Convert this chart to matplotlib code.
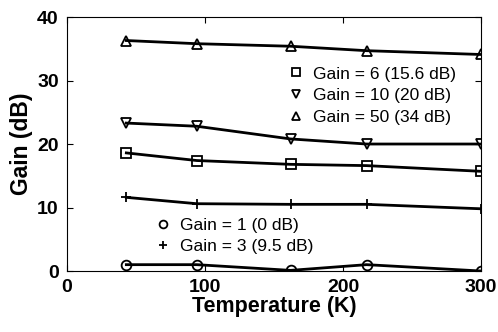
import matplotlib
matplotlib.use('Agg')
import matplotlib.pyplot as plt

temps = [43, 94, 162, 217, 300]
gain_1 = [1.0, 1.0, 0.1, 1.0, 0.0]
gain_3 = [11.6, 10.6, 10.5, 10.5, 9.8]
gain_6 = [18.6, 17.4, 16.8, 16.6, 15.7]
gain_10 = [23.3, 22.8, 20.8, 20.0, 20.0]
gain_50 = [36.3, 35.8, 35.4, 34.7, 34.1]

plt.rcParams['font.family'] = ['Liberation Sans', 'DejaVu Sans']

fig = plt.figure(figsize=(4.98, 3.32), dpi=100)
ax = fig.add_axes([0.1345, 0.1837, 0.8315, 0.765])

style = dict(color='black', linewidth=2.0, markersize=7, markerfacecolor='none',
             markeredgewidth=1.3)
l1, = ax.plot(temps, gain_1, marker='o', label='Gain = 1 (0 dB)', **style)
l3, = ax.plot(temps, gain_3, marker='+', label='Gain = 3 (9.5 dB)', **style)
l6, = ax.plot(temps, gain_6, marker='s', label='Gain = 6 (15.6 dB)', **style)
l10, = ax.plot(temps, gain_10, marker='v', label='Gain = 10 (20 dB)', **style)
l50, = ax.plot(temps, gain_50, marker='^', label='Gain = 50 (34 dB)', **style)

ax.set_xlim(0, 300)
ax.set_ylim(0, 40)
ax.set_xticks([0, 100, 200, 300])
ax.set_yticks([0, 10, 20, 30, 40])
ax.tick_params(direction='in', top=True, right=True, labelsize=14, length=4, pad=6)
for lbl in ax.get_xticklabels() + ax.get_yticklabels():
    lbl.set_fontweight('bold')
ax.set_xlabel('Temperature (K)', fontsize=15.5, fontweight='bold', labelpad=0)
ax.set_ylabel('Gain (dB)', fontsize=16.5, fontweight='bold', labelpad=3)

leg_kw = dict(frameon=False, fontsize=12.5, handlelength=1.0, handletextpad=0.5,
              labelspacing=0.38, borderpad=0, markerscale=0.8)
leg1 = ax.legend(handles=[l6, l10, l50], loc='upper left',
                 bbox_to_anchor=(0.51, 0.84), **leg_kw)
for h in leg1.legend_handles:
    h.set_linestyle('none')
ax.add_artist(leg1)
leg2 = ax.legend(handles=[l1, l3], loc='upper left',
                 bbox_to_anchor=(0.19, 0.245), **leg_kw)
for h in leg2.legend_handles:
    h.set_linestyle('none')

fig.savefig('out.png', dpi=100)
